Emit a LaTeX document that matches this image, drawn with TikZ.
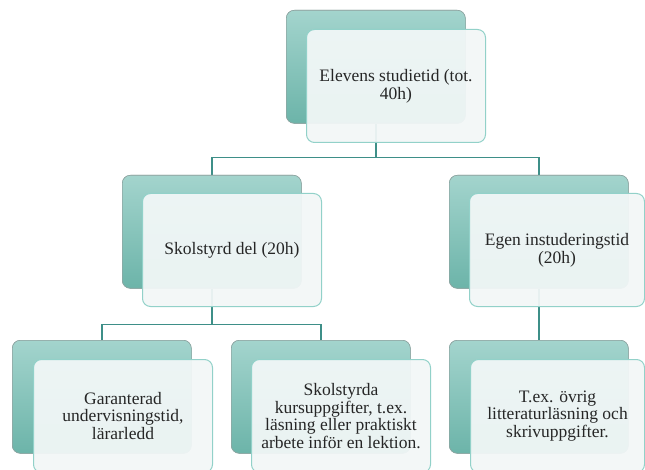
\documentclass[tikz,border=0pt]{standalone}
\usepackage{fontspec}
\setmainfont{Liberation Serif}
\newfontfamily\boxfont{Liberation Serif}
\usetikzlibrary{positioning}
\definecolor{backtop}{HTML}{A3D4CD}
\definecolor{backbot}{HTML}{6CB4A9}
\definecolor{backedge}{HTML}{8FA5A2}
\definecolor{frontfill}{HTML}{F2F7F7}
\definecolor{frontedge}{HTML}{92D1C9}
\definecolor{linkcol}{HTML}{3E8F88}
\definecolor{txt}{HTML}{1A1A1A}
\tikzset{
  backbox/.style={anchor=north west, minimum width=179pt, minimum height=113pt, inner sep=0pt,
    rounded corners=8pt, top color=backtop, bottom color=backbot, draw=backedge, line width=0.6pt},
  frontbox/.style={anchor=north west, minimum width=179pt, minimum height=113pt, inner sep=0pt,
    rounded corners=8pt, fill=frontfill, fill opacity=0.94, draw=frontedge, line width=1pt,
    align=center, text=txt, font=\boxfont\fontsize{17.5}{17.8}\selectfont},
  link/.style={draw=linkcol, line width=1.4pt}
}
\begin{document}
\begin{tikzpicture}[x=1pt,y=1pt]
\useasboundingbox (0,0) rectangle (645,-470);
% back boxes
\node[backbox] (tb)  at (286,-10) {};
\node[backbox] (lb)  at (122,-175) {};
\node[backbox] (rb)  at (449,-175) {};
\node[backbox] (llb) at (12,-340) {};
\node[backbox] (lmb) at (231,-340) {};
\node[backbox] (rrb) at (449,-340) {};
% connectors
\draw[link] (tb.south) -- ++(0,-34) -| (lb.north);
\draw[link] (tb.south) -- ++(0,-34) -| (rb.north);
\draw[link] (lb.south) -- ++(0,-36) -| (llb.north);
\draw[link] (lb.south) -- ++(0,-36) -| (lmb.north);
\draw[link] (rb.south) -- (rrb.north);
% redraw back boxes over connector ends
\node[backbox] at (286,-10) {};
\node[backbox] at (122,-175) {};
\node[backbox] at (449,-175) {};
\node[backbox] at (12,-340) {};
\node[backbox] at (231,-340) {};
\node[backbox] at (449,-340) {};
% front boxes
\node[frontbox] (tf)  at (306,-29)  {Elevens studietid (tot.\\40h)};
\node[frontbox] (lf)  at (142,-193) {Skolstyrd del (20h)};
\node[frontbox, minimum width=175pt] (rf)  at (469,-193) {Egen instuderingstid\\(20h)};
\node[frontbox] (llf) at (33,-359)  {Garanterad\\undervisningstid,\\lärarledd};
\node[frontbox] (lmf) at (251,-359) {Skolstyrda\\kursuppgifter, t.ex.\\läsning eller praktiskt\\arbete inför en lektion.};
\node[frontbox, minimum width=174pt] (rrf) at (470,-359) {T.ex. övrig\\litteraturläsning och\\skrivuppgifter.};
\end{tikzpicture}
\end{document}
